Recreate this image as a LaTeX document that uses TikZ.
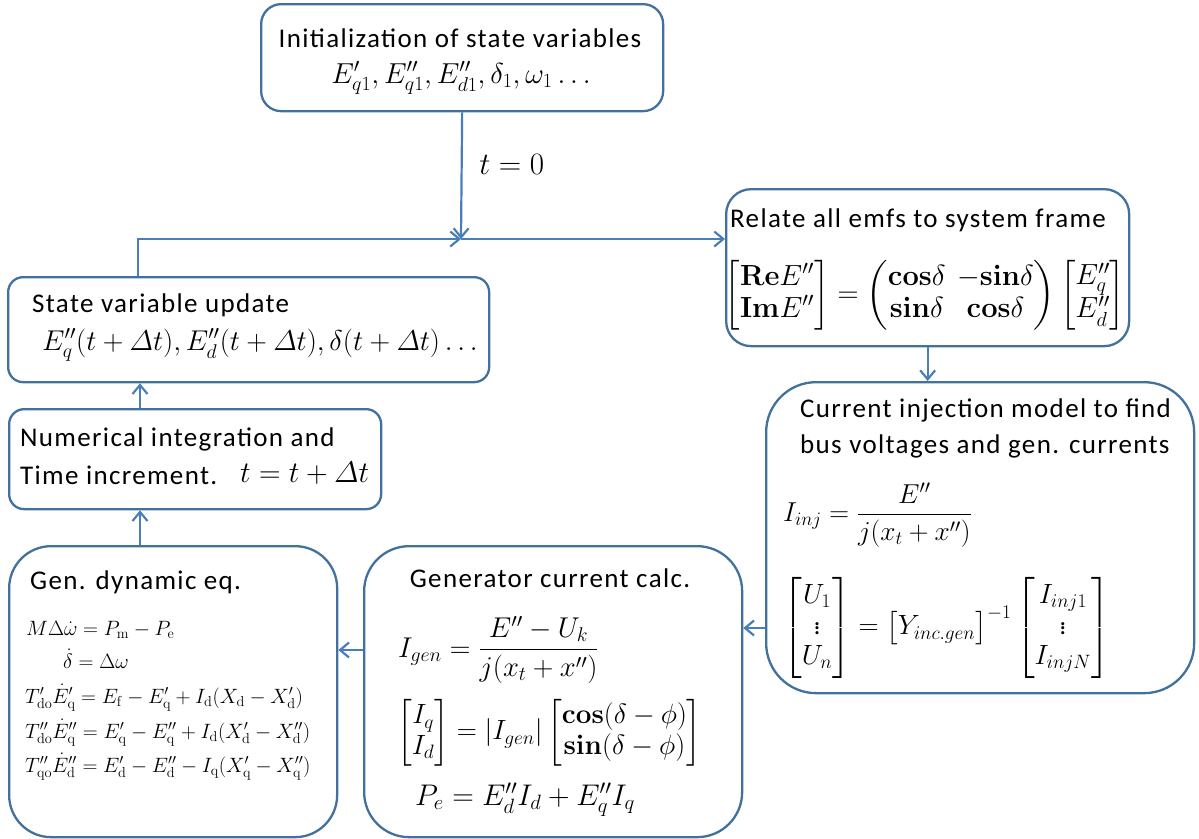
\documentclass[tikz,border=0pt]{standalone}
\usepackage{amsmath}
\usepackage[no-math]{fontspec}
\setmainfont{Carlito}[LetterSpace=5]
\usetikzlibrary{arrows.meta}
\definecolor{boxc}{HTML}{41719C}
\definecolor{arrc}{HTML}{4A7EBB}
\tikzset{
  box/.style={draw=boxc, line width=2.3pt, rounded corners=#1, fill=white, inner sep=0pt, anchor=north west},
  arr/.style={draw=arrc, line width=2.2pt, -{Straight Barb[length=9pt,width=15pt,line width=2.2pt]}},
  txt/.style={inner sep=0pt, font=\fontsize{27}{31}\selectfont},
  eq/.style={inner sep=0pt, font=\fontsize{23}{27}\selectfont},
  small/.style={inner sep=0pt, anchor=base west, font=\fontsize{20.5}{24}\selectfont}
}
\begin{document}
\begin{tikzpicture}[x=1pt,y=-1pt]
\useasboundingbox (0,0) rectangle (1199,838);
% boxes
\node[box=20pt, minimum width=402pt, minimum height=107pt] (init) at (260,3) {};
\node[box=25pt, minimum width=403pt, minimum height=157pt] (relate) at (725,188) {};
\node[box=50pt, minimum width=428pt, minimum height=311pt] (curinj) at (765,381) {};
\node[box=45pt, minimum width=378pt, minimum height=291pt] (gencur) at (363,545) {};
\node[box=42pt, minimum width=328pt, minimum height=291pt] (gendyn) at (8,545) {};
\node[box=15pt, minimum width=372pt, minimum height=100pt] (numer) at (8,408) {};
\node[box=15pt, minimum width=481pt, minimum height=105pt] (state) at (7,276) {};
% texts
\node[txt] (t1) at (460,38) {Initialization of state variables};
\node[eq, scale=1.16] (e1) at (461,78) {$E^{\prime}_{q1}, E^{\prime\prime}_{q1}, E^{\prime\prime}_{d1}, \delta_1, \omega_1\ldots$};
\node[eq, scale=1.25, anchor=west] (tz) at (479,164) {$t=0$};
\node[txt, anchor=west] (t2) at (730,220) {Relate all emfs to system frame};
\node[eq, scale=1.17] (e2) at (925,295) {$\begin{bmatrix}\mathbf{Re}E^{\prime\prime}\\ \mathbf{Im}E^{\prime\prime}\end{bmatrix} = \begin{pmatrix}\mathbf{cos}\delta & -\mathbf{sin}\delta\\ \mathbf{sin}\delta & \mathbf{cos}\delta\end{pmatrix}\begin{bmatrix}E^{\prime\prime}_q\\ E^{\prime\prime}_d\end{bmatrix}$};
\node[txt, anchor=west] (t3) at (800,410) {Current injection model to find};
\node[txt, anchor=west] (t4) at (800,446) {bus voltages and gen. currents};
\node[eq, scale=1.1, anchor=west] (e3) at (783,515) {$I_{inj} = \dfrac{E^{\prime\prime}}{j(x_t+x^{\prime\prime})}$};
\node[eq, scale=1.12, anchor=west] (e4) at (783,628) {$\begin{bmatrix}U_1\\ \vdots\\ U_n\end{bmatrix} = \bigl[Y_{inc.gen}\bigr]^{-1}\begin{bmatrix}I_{inj1}\\ \vdots\\ I_{injN}\end{bmatrix}$};
\node[txt] (t5) at (550,578) {Generator current calc.};
\node[eq, scale=1.15, anchor=west] (e5) at (398,650) {$I_{gen} = \dfrac{E^{\prime\prime}-U_k}{j(x_t+x^{\prime\prime})}$};
\node[eq, scale=1.12, anchor=west] (e6) at (397,733) {$\begin{bmatrix}I_q\\ I_d\end{bmatrix} = \left|I_{gen}\right|\begin{bmatrix}\mathbf{cos}(\delta-\phi)\\ \mathbf{sin}(\delta-\phi)\end{bmatrix}$};
\node[eq, scale=1.2] (e7) at (525,800) {$P_e = E^{\prime\prime}_d I_d + E^{\prime\prime}_q I_q$};
\node[txt, anchor=west] (t6) at (30,582) {Gen. dynamic eq.};
\node[small] (d1) at (26,635) {$M\Delta\dot{\omega} = P_{\mathrm{m}} - P_{\mathrm{e}}$};
\node[small] (d2) at (63,668) {$\dot{\delta} = \Delta\omega$};
\node[small] (d3) at (25,703) {$T'_{\mathrm{do}}\dot{E}'_{\mathrm{q}} = E_{\mathrm{f}} - E'_{\mathrm{q}} + I_{\mathrm{d}}(X_{\mathrm{d}} - X'_{\mathrm{d}})$};
\node[small] (d4) at (25,738) {$T''_{\mathrm{do}}\dot{E}''_{\mathrm{q}} = E'_{\mathrm{q}} - E''_{\mathrm{q}} + I_{\mathrm{d}}(X'_{\mathrm{d}} - X''_{\mathrm{d}})$};
\node[small] (d5) at (25,772) {$T''_{\mathrm{qo}}\dot{E}''_{\mathrm{d}} = E'_{\mathrm{d}} - E''_{\mathrm{d}} - I_{\mathrm{q}}(X'_{\mathrm{q}} - X''_{\mathrm{q}})$};
\node[txt, anchor=west] (t7) at (20,439) {Numerical integration and};
\node[txt, anchor=west] (t8) at (20,475) {Time increment.};
\node[eq, scale=1.2, anchor=west] (e10) at (240,473) {$t = t + \varDelta t$};
\node[txt, anchor=west] (t9) at (32,305) {State variable update};
\node[eq, scale=1.15, anchor=west] (e9) at (42,345) {$E^{\prime\prime}_q(t+\varDelta t), E^{\prime\prime}_d(t+\varDelta t), \delta(t+\varDelta t)\ldots$};
% connectors
\coordinate (J) at (461,239);
\coordinate (L) at (138,239);
\coordinate (c) at (140,0);
\coordinate (a1) at (0,628);
\coordinate (a2) at (0,650);
\draw[arr] (init.south) -- (J);
\draw[arr] (state.north -| L) -- (L) -- (J);
\draw[arr] (J) -- (J -| relate.west);
\draw[arr] (relate.south) -- (relate.south |- curinj.north);
\draw[arr] (curinj.west |- a1) -- (gencur.east |- a1);
\draw[arr] (gencur.west |- a2) -- (gendyn.east |- a2);
\draw[arr] (gendyn.north -| c) -- (numer.south -| c);
\draw[arr] (numer.north -| c) -- (state.south -| c);
\end{tikzpicture}
\end{document}
